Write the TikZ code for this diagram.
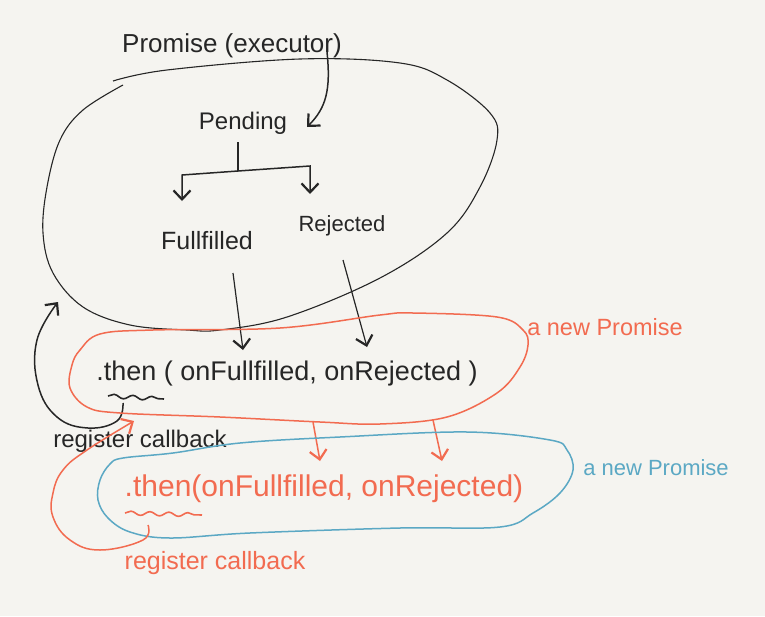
\documentclass[tikz,border=0pt]{standalone}
\usepackage{fontspec}
\setmainfont{Liberation Sans}
\usetikzlibrary{arrows.meta,decorations.pathmorphing}
\definecolor{bg}{HTML}{F5F4F0}
\definecolor{ink}{HTML}{262626}
\definecolor{org}{HTML}{F26B50}
\definecolor{blu}{HTML}{5BA8C4}
\tikzset{
  arr/.style={-{Straight Barb[length=9pt,width=17pt,line width=2.2pt]}, line width=1.5pt},
  txt/.style={inner sep=0pt, anchor=center},
  squig/.style={decorate, decoration={snake, amplitude=2pt, segment length=19pt}, line width=1.6pt},
}
\newcommand{\fs}[1]{\fontsize{#1}{#1}\selectfont}
\begin{document}
\begin{tikzpicture}[x=1pt,y=-1pt]
\fill[bg] (0,0) rectangle (765,616);
\useasboundingbox (0,0) rectangle (765,616);

% outer Promise ellipse (black)
\draw[ink, line width=1.1pt] plot[smooth, tension=0.6] coordinates {
 (113,81) (167,70) (300,59) (400,63) (447,80) (490,113) (497,140) (480,187)
 (447,233) (380,278) (287,317) (220,330) (187,330) (130,325) (83,307)
 (53,273) (43,233) (47,187) (60,140) (83,110) (123,85)};

% texts (black)
\node[txt, ink, font=\fs{26}] (prom) at (232,46) {Promise (executor)};
\node[txt, ink, font=\fs{24}] (pend) at (243,123) {Pending};
\node[txt, ink, font=\fs{25}] (ful) at (207,241) {Fullfilled};
\node[txt, ink, font=\fs{22}] (rej) at (342,226) {Rejected};
\node[txt, ink, font=\fs{27}] (then1) at (287,374) {.then ( onFullfilled, onRejected )};
\node[txt, ink, font=\fs{24}] (reg1) at (140,441) {register callback};

% executor arrow
\coordinate (ex) at (327,52);
\coordinate (exend) at (307,127);
\draw[arr, ink] (ex) .. controls (331,90) and (326,108) .. (exend);

% branch
\coordinate (br0) at (238,142);
\coordinate (br1) at (238,171);
\coordinate (bl) at (182,175);
\coordinate (blend) at (182,201);
\coordinate (brr) at (310,166);
\coordinate (brend) at (310,194);
\draw[ink, line width=1.6pt] (br0) -- (br1);
\draw[arr, ink] (br1) -- (bl) -- (blend);
\draw[arr, ink] (br1) -- (brr) -- (brend);

% fulfilled / rejected arrows into .then
\coordinate (fa) at (233,273);
\coordinate (fb) at (243,350);
\coordinate (ra) at (343,260);
\coordinate (rb) at (367,347);
\draw[arr, ink, line width=1.2pt] (fa) -- (fb);
\draw[arr, ink, line width=1.2pt] (ra) -- (rb);

% squiggle under then (black) and register callback arrow
\coordinate (sq1a) at (108,396);
\coordinate (sq1b) at (164,399);
\draw[ink, squig] (sq1a) -- (sq1b);
\coordinate (cb1s) at (123,403);
\coordinate (cb1e) at (58,302);
\draw[arr, ink] plot[smooth, tension=0.7] coordinates {(cb1s) (117,421) (88,428) (57,417) (38,385) (37,340) (cb1e)};

% orange new promise
\draw[org, line width=1.5pt] plot[smooth cycle, tension=0.6] coordinates {
 (153,330) (280,328) (380,315) (413,313) (497,317) (523,330) (528,345)
 (520,367) (497,393) (447,417) (380,424) (320,422) (220,417) (120,413)
 (87,407) (70,388) (72,365) (80,350) (100,334)};
\node[txt, org, font=\fs{23.5}] (new1) at (605,327) {a new Promise};

% orange arrows to second then
\coordinate (oa1) at (313,422);
\coordinate (ob1) at (320,461);
\coordinate (oa2) at (433,420);
\coordinate (ob2) at (442,461);
\draw[arr, org] (oa1) -- (ob1);
\draw[arr, org] (oa2) -- (ob2);

% blue new promise
\draw[blu, line width=1.5pt] plot[smooth cycle, tension=0.6] coordinates {
 (123,458) (173,453) (240,443) (340,437) (467,432) (550,440)
 (567,450) (573,470) (560,493) (533,513) (500,527) (400,528)
 (250,533) (170,538) (130,532) (108,518) (98,500) (100,480) (110,464)};
\node[txt, blu, font=\fs{22}] (new2) at (656,468) {a new Promise};

\node[txt, org, font=\fs{30}] (then2) at (324,489) {.then(onFullfilled, onRejected)};

% orange squiggle and callback arrow
\coordinate (sq2a) at (125,513);
\coordinate (sq2b) at (202,515);
\draw[org, squig] (sq2a) -- (sq2b);
\coordinate (cb2s) at (148,525);
\coordinate (cb2e) at (134,421);
\draw[arr, org] plot[smooth, tension=0.7] coordinates {(cb2s) (143,540) (100,550) (70,540) (53,517) (53,493) (63,470) (87,450) (cb2e)};

\node[txt, org, font=\fs{25}] (reg2) at (215,563) {register callback};
\end{tikzpicture}
\end{document}
